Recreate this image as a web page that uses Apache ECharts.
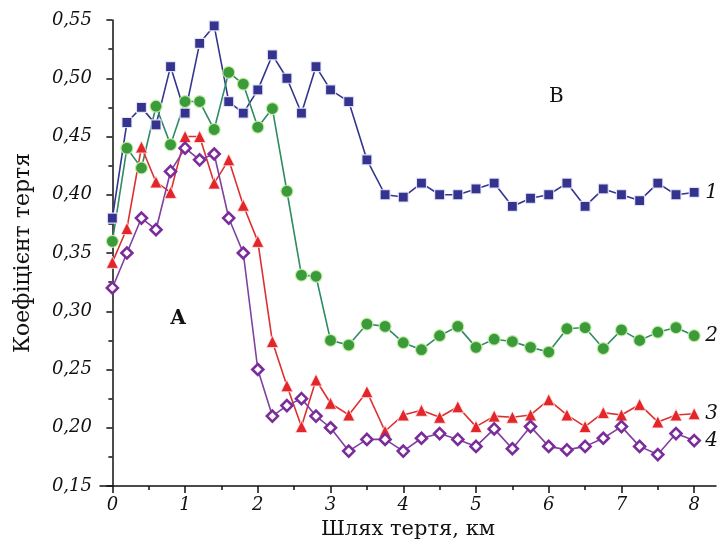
<!DOCTYPE html>
<html>
<head>
<meta charset="utf-8">
<script src="https://cdn.jsdelivr.net/npm/echarts@6/dist/echarts.min.js"></script>
<style>html,body{margin:0;padding:0;background:#fff;}#c{width:724px;height:550px;}</style>
</head>
<body>
<div id="c"></div>
<script>
// x positions (km)
var xs = [0,0.2,0.4,0.6,0.8,1.0,1.2,1.4,1.6,1.8,2.0,2.2,2.4,2.6,2.8,3.0,
          3.25,3.5,3.75,4.0,4.25,4.5,4.75,5.0,5.25,5.5,5.75,6.0,6.25,6.5,6.75,7.0,7.25,7.5,7.75,8.0];
var s1 = [0.38,0.462,0.475,0.46,0.51,0.47,0.53,0.545,0.48,0.47,0.49,0.52,0.50,0.47,0.51,0.49,
          0.48,0.43,0.40,0.398,0.41,0.40,0.40,0.405,0.41,0.39,0.397,0.40,0.41,0.39,0.405,0.40,0.395,0.41,0.40,0.402];
var s2 = [0.36,0.44,0.423,0.476,0.443,0.48,0.48,0.456,0.505,0.495,0.458,0.474,0.403,0.331,0.33,0.275,
          0.271,0.289,0.287,0.273,0.267,0.279,0.287,0.269,0.276,0.274,0.269,0.265,0.285,0.286,0.268,0.284,0.275,0.282,0.286,0.279];
var s3 = [0.342,0.371,0.441,0.411,0.402,0.45,0.45,0.41,0.43,0.391,0.36,0.274,0.236,0.201,0.241,0.221,
          0.211,0.231,0.197,0.211,0.215,0.209,0.218,0.201,0.21,0.209,0.211,0.224,0.211,0.201,0.213,0.211,0.22,0.205,0.211,0.212];
var s4 = [0.32,0.35,0.38,0.37,0.42,0.44,0.43,0.435,0.38,0.35,0.25,0.21,0.219,0.225,0.21,0.20,
          0.18,0.19,0.19,0.18,0.191,0.195,0.19,0.184,0.199,0.182,0.201,0.184,0.181,0.184,0.191,0.201,0.184,0.177,0.195,0.189];
var seriesNames = ['1','2','3','4'];
var xTickLabels = [0,1,2,3,4,5,6,7,8];
var xMinorTicks = [0.5,1.5,2.5,3.5,4.5,5.5,6.5,7.5];

function pairs(arr){ return xs.map(function(x,i){ return [x, arr[i]]; }); }

var serif = 'DejaVu Serif';
var chart = echarts.init(document.getElementById('c'), null, {renderer:'canvas'});

function mk(name, data, lineColor, symbol, size, itemStyle){
  return {
    name: name, type: 'line', data: pairs(data), xAxisIndex: 0, yAxisIndex: 0,
    symbol: symbol, symbolSize: size, showAllSymbol: true,
    lineStyle: {color: lineColor, width: 1.6},
    itemStyle: itemStyle,
    animation: false,
    endLabel: {show: true, formatter: name, color: '#111', fontFamily: serif, fontStyle: 'italic',
               fontSize: 20, distance: 11}
  };
}

var option = {
  animation: false,
  backgroundColor: '#fff',
  grid: {left: 100, right: 8, top: 20, bottom: 64, containLabel: false},
  xAxis: [{
    type: 'value', min: -0.17, max: 8.3,
    axisLine: {show: true, lineStyle: {color: '#111', width: 1.5}},
    axisTick: {show: true, customValues: xTickLabels, length: 7, inside: false, lineStyle: {color: '#111', width: 1.5}},
    axisLabel: {customValues: xTickLabels, color: '#111', fontFamily: serif, fontStyle: 'italic', fontSize: 18, margin: 10,
                formatter: function(v){ return String(v); }},
    splitLine: {show: false},
    name: 'Шлях тертя, км', nameLocation: 'middle', nameGap: 24,
    nameTextStyle: {color: '#111', fontFamily: serif, fontSize: 21, verticalAlign: 'top'}
  },{
    type: 'value', min: -0.17, max: 8.3, position: 'bottom',
    axisLine: {show: false},
    axisTick: {show: true, customValues: xMinorTicks, length: 4, lineStyle: {color: '#111', width: 1.5}},
    axisLabel: {show: false}, splitLine: {show: false}
  }],
  yAxis: [{
    type: 'value', min: 0.15, max: 0.55, interval: 0.05,
    axisLine: {show: true, lineStyle: {color: '#111', width: 1.5}},
    axisTick: {show: true, length: 6, lineStyle: {color: '#111', width: 1.5}},
    minorTick: {show: true, splitNumber: 2, length: 4, lineStyle: {color: '#111', width: 1.5}},
    axisLabel: {color: '#111', fontFamily: serif, fontStyle: 'italic', fontSize: 18, margin: 8,
                formatter: function(v){ return v.toFixed(2).replace('.', ','); }},
    splitLine: {show: false},
    name: 'Коефіцієнт тертя', nameLocation: 'middle', nameGap: 66, nameRotate: 90,
    nameTextStyle: {color: '#111', fontFamily: serif, fontSize: 22}
  }],
  graphic: [
    {type: 'text', left: 170, top: 309, style: {text: 'А', font: 'bold 20px "DejaVu Serif"', fill: '#111'}},
    {type: 'text', left: 549, top: 87, style: {text: 'В', font: '20px "DejaVu Serif"', fill: '#111'}}
  ],
  series: [
    mk('1', s1, '#35358f', 'rect', 10, {color: '#34348f', borderColor: 'rgba(235,235,255,0.9)', borderWidth: 1.2}),
    mk('2', s2, '#2f8c62', 'circle', 12, {color: '#3b9a3a', borderColor: 'rgba(200,240,170,0.9)', borderWidth: 1.2}),
    mk('3', s3, '#dd3030', 'triangle', 12, {color: '#e2262a', borderColor: 'rgba(255,230,230,0.8)', borderWidth: 1}),
    mk('4', s4, '#8040a0', 'diamond', 11, {color: '#ffffff', borderColor: '#7a2d9a', borderWidth: 2.6})
  ]
};
chart.setOption(option);
</script>
</body>
</html>
